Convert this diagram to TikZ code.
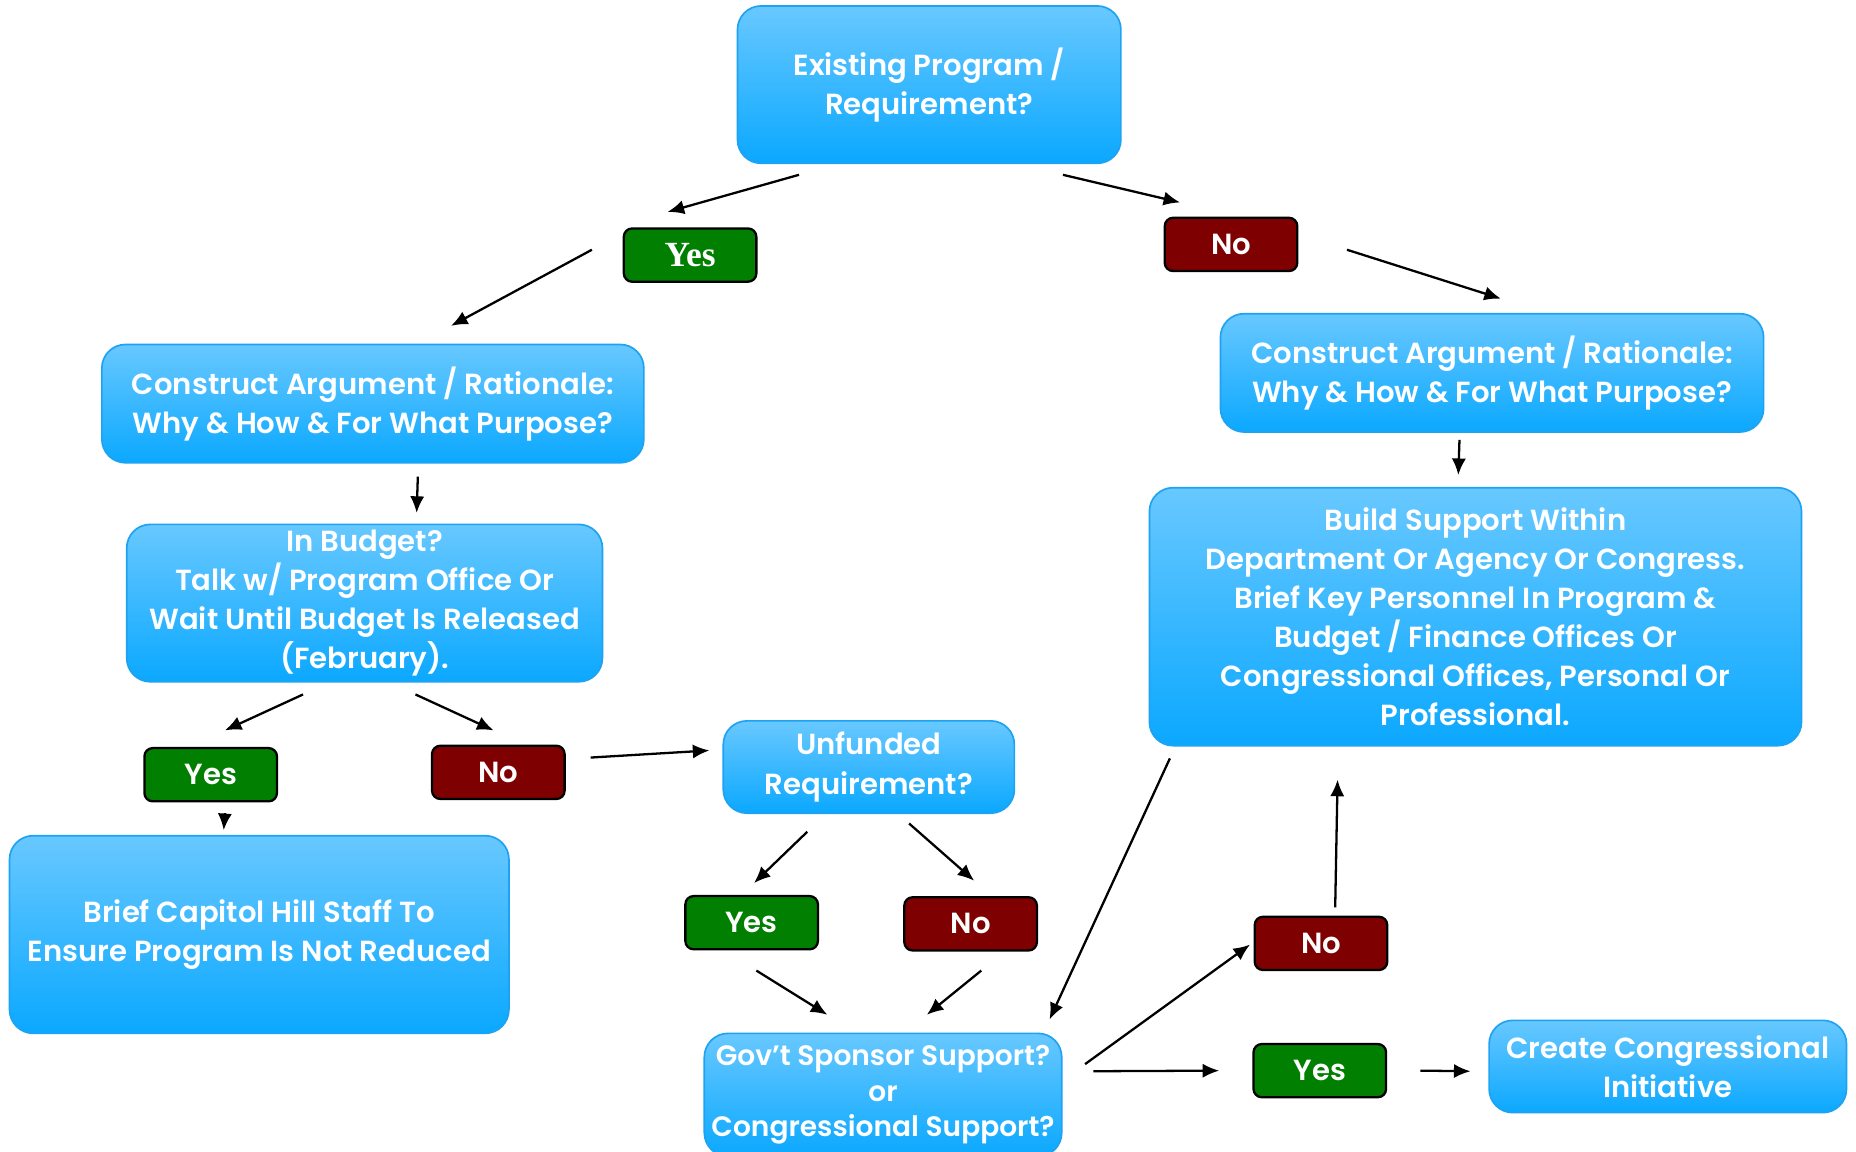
\documentclass[tikz,border=0pt]{standalone}
\usepackage{fontspec}
\setmainfont{Poppins}[BoldFont={Poppins SemiBold}]
\newfontfamily\serifyes{Liberation Serif}
\usetikzlibrary{arrows.meta,calc}
\definecolor{skytop}{HTML}{68C8FF}
\definecolor{skybot}{HTML}{0BA8FF}
\definecolor{skyline}{HTML}{1EA2F2}
\definecolor{yesgreen}{HTML}{007F00}
\definecolor{nored}{HTML}{7F0000}

\begin{document}
\begin{tikzpicture}[x=0.02cm,y=-0.02cm,>={Latex[length=2.8mm,width=2.4mm]},
        line width=1.1pt,font=\fontsize{14}{18.8}\selectfont\bfseries]
    \tikzstyle{every node}=[text=white,align=center,inner sep=0pt]
    \tikzstyle{box}=[rectangle,rounded corners=0.4cm,draw=skyline,line width=0.8pt,
        top color=skytop,bottom color=skybot]
    \tikzstyle{yesbox}=[rectangle,rounded corners=0.14cm,draw=black,fill=yesgreen,
        minimum width=2.24cm,minimum height=0.9cm]
    \tikzstyle{nobox}=[yesbox,fill=nored]
    \tikzstyle{arr}=[->,black]

    \useasboundingbox (0,0) rectangle (1568,973);

    % question boxes
    \node[box,minimum width=6.48cm,minimum height=2.66cm] (exist) at (785,71.5)
        {Existing Program /\\Requirement?};
    \node[box,minimum width=9.16cm,minimum height=2cm] (argL) at (315,341)
        {Construct Argument / Rationale:\\Why \& How \& For What Purpose?};
    \node[box,minimum width=9.18cm,minimum height=2cm] (argR) at (1260.5,315)
        {Construct Argument / Rationale:\\Why \& How \& For What Purpose?};
    \node[box,minimum width=8.04cm,minimum height=2.66cm] (budget) at (308,509.5)
        {In Budget?\\Talk w/ Program Office Or\\Wait Until Budget Is Released\\(February).};
    \node[box,minimum width=11.02cm,minimum height=4.36cm] (build) at (1246.5,521)
        {Build Support Within\\Department Or Agency Or Congress.\\Brief Key Personnel In Program \&\\
         Budget / Finance Offices Or\\Congressional Offices, Personal Or\\Professional.};
    \node[box,minimum width=4.92cm,minimum height=1.56cm] (unfund) at (734,648)
        {Unfunded\\Requirement?};
    \node[box,minimum width=8.44cm,minimum height=3.34cm] (brief) at (219,789.5)
        {Brief Capitol Hill Staff To\\Ensure Program Is Not Reduced};
    \node[box,minimum width=6.04cm,minimum height=2.08cm,font=\fontsize{13.5}{17}\selectfont\bfseries]
        (gov) at (746,925) {Gov’t Sponsor Support?\\or\\Congressional Support?};
    \node[box,minimum width=6.04cm,minimum height=1.56cm] (create) at (1409,901)
        {Create Congressional\\Initiative};

    % answers
    \node[yesbox,font=\fontsize{17}{18}\selectfont\serifyes\bfseries] (yesA) at (583,215.5) {Yes};
    \node[nobox] (noA) at (1040,206.5) {No};
    \node[yesbox] (yesB) at (178,654.5) {Yes};
    \node[nobox] (noB) at (421,652.5) {No};
    \node[yesbox] (yesC) at (635,779.5) {Yes};
    \node[nobox] (noC) at (820,780.5) {No};
    \node[nobox] (noD) at (1116,797) {No};
    \node[yesbox] (yesD) at (1115,904.5) {Yes};

    % arrows
    \draw[arr] ($(exist.south)+(-110,9)$) -- ($(yesA.north)+(-19,-13)$);
    \draw[arr] ($(exist.south)+(113,9)$) -- ($(noA.north)+(-43,-12)$);
    \draw[arr] ($(yesA.west)+(-26,-4.5)$) -- ($(argL.north)+(66,-15)$);
    \draw[arr] ($(noA.east)+(41,4.5)$) -- ($(argR.north)+(7.5,-12)$);
    \draw[arr] ($(argL.south)+(38,11)$) -- ($(budget.north)+(44,-9)$);
    \draw[arr] ($(argR.south)+(-27.5,6)$) -- ($(build.north)+(-14.5,-10)$);
    \draw[arr] ($(budget.south)+(-52,10)$) -- ($(yesB.north)+(12,-14)$);
    \draw[arr] ($(budget.south)+(43,10)$) -- ($(noB.north)+(-4,-12)$);
    \draw[arr] ($(noB.east)+(21,-12.5)$) -- ($(unfund.west)+(-11,-14)$);
    \draw[arr] ($(yesB.south)+(12,9)$) -- ($(brief.north)+(-30,-4)$);
    \draw[arr] ($(unfund.south)+(-52,15)$) -- ($(yesC.north)+(2,-10)$);
    \draw[arr] ($(unfund.south)+(34,8)$) -- ($(noC.north)+(3,-13)$);
    \draw[arr] ($(yesC.south)+(4,17)$) -- ($(gov.north)+(-47,-15)$);
    \draw[arr] ($(noC.south)+(9,16)$) -- ($(gov.north)+(37,-15)$);
    \draw[arr] ($(build.south west)+(18,10)$) -- ($(gov.north east)+(-11,-11)$);
    \draw[arr] ($(noD.north)+(12,-7)$) -- ($(build.south)+(-116.5,28)$);
    \draw[arr] ($(gov.east)+(19,-26)$) -- ($(noD.west)+(-3,1)$);
    \draw[arr] ($(gov.east)+(26,-20)$) -- ($(yesD.west)+(-28,0)$);
    \draw[arr] ($(yesD.east)+(28,0)$) -- ($(create.west)+(-15,4)$);
\end{tikzpicture}
\end{document}
